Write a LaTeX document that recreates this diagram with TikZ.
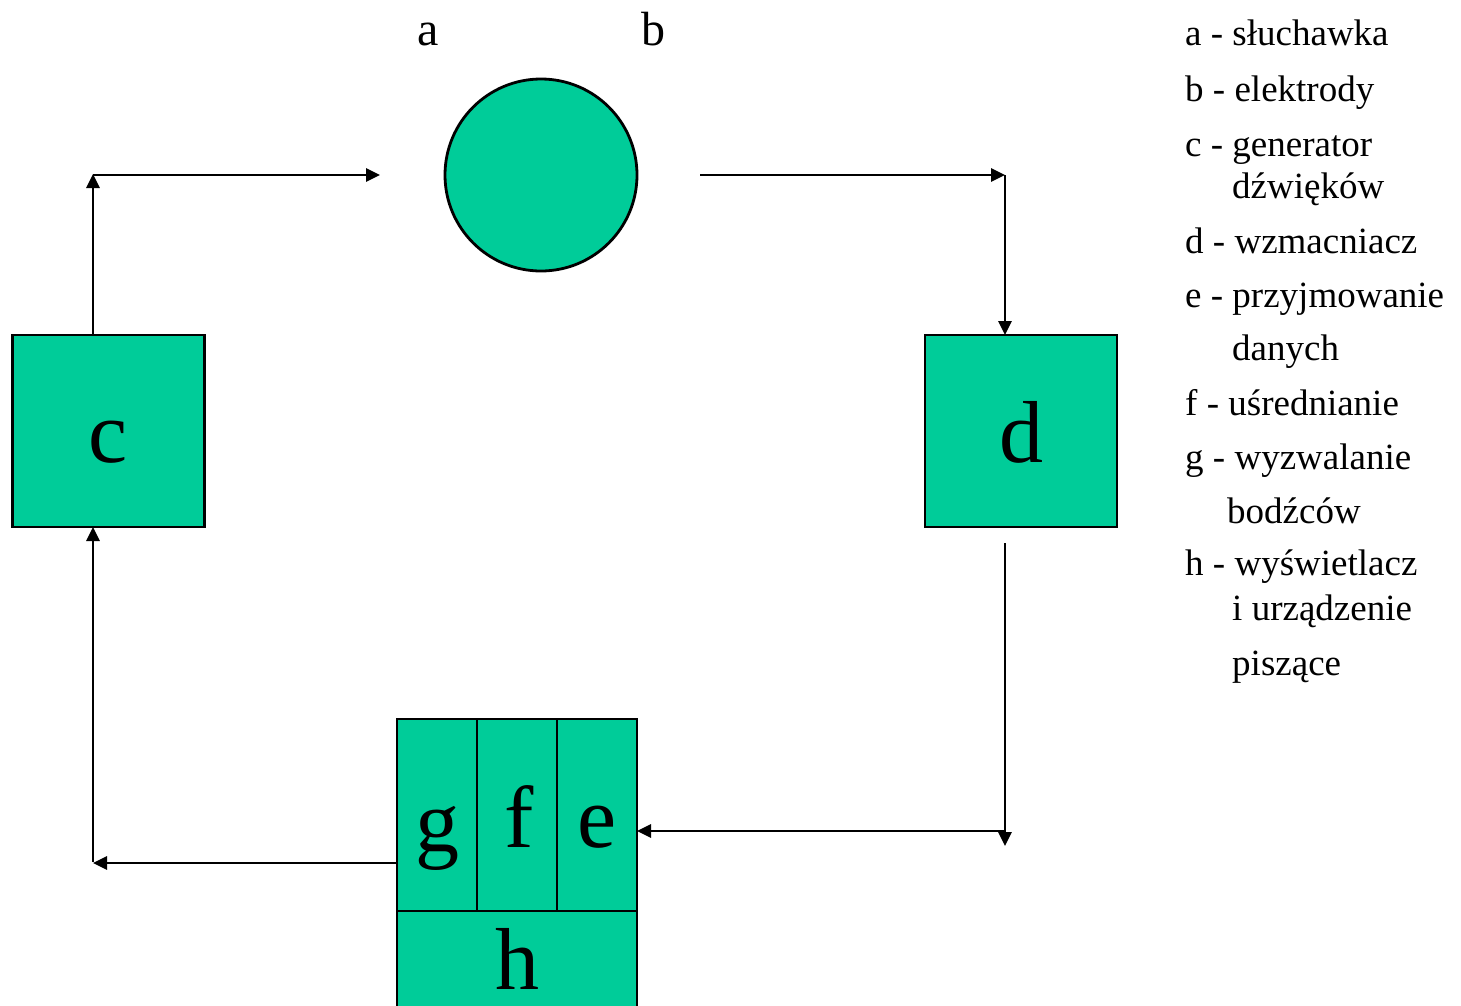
\documentclass[tikz,border=0pt]{standalone}
\usepackage{fontspec}
\setmainfont{Liberation Serif}
\usetikzlibrary{arrows.meta}
\definecolor{boxgreen}{HTML}{00CC99}
\begin{document}
\begin{tikzpicture}[x=1pt,y=-1pt,
  conn/.style={line width=2.7pt,-{Triangle[length=14pt,width=13pt]}},
  gbox/.style={draw=black,line width=2.8pt,fill=boxgreen,inner sep=0pt,outer sep=0pt},
  biglet/.style={font=\fontsize{88}{88}\selectfont,inner sep=0pt,anchor=base},
  toplet/.style={font=\fontsize{48}{48}\selectfont,inner sep=0pt,anchor=base},
  leg/.style={font=\fontsize{37}{37}\selectfont,inner sep=0pt,anchor=base west}]
\useasboundingbox (0,0) rectangle (1461,1005);
\clip (0,0) rectangle (1461,1005);
% circle
\node[gbox,circle,minimum size=192pt] (circ) at (541,175) {};
\node[toplet] (la) at (428,45) {a};
\node[toplet] (lb) at (653,45) {b};
% boxes c and d
\node[gbox,minimum width=192pt,minimum height=192pt] (cbox) at (108.5,431) {};
\node[biglet] (clet) at (108.5,462) {c};
\node[gbox,minimum width=192pt,minimum height=192pt] (dbox) at (1021,431) {};
\node[biglet] (dlet) at (1021,462) {d};
% block g f e h
\node[gbox,minimum width=80pt,minimum height=192pt] (gcell) at (437,815) {};
\node[gbox,minimum width=80pt,minimum height=192pt] (fcell) at (517,815) {};
\node[gbox,minimum width=80pt,minimum height=192pt] (ecell) at (597,815) {};
\node[gbox,minimum width=240pt,minimum height=97pt] (hcell) at (517,959.5) {};
\node[biglet] (glet) at (437,851) {g};
\node[biglet] (flet) at (519,847) {f};
\node[biglet] (elet) at (597,847) {e};
\node[biglet] (hlet) at (517,989) {h};
% connector coordinates
\coordinate (c1) at (93,335);
\coordinate (ctl) at (93,175);
\coordinate (aend) at (380,175);
\coordinate (bstart) at (700,175);
\coordinate (dtr) at (1005,175);
\coordinate (d1) at (1005,335);
\coordinate (d2) at (1005,543);
\coordinate (dbot) at (1005,846);
\coordinate (dcorner) at (1005,831);
\coordinate (e1) at (637,831);
\coordinate (g1) at (397,863);
\coordinate (cbl) at (93,863);
\coordinate (c2) at (93,527);
\draw[conn] (c1) -- ([yshift=1pt]ctl);
\draw[conn] (ctl) -- (aend);
\draw[conn] (bstart) -- (dtr);
\draw[conn] (dtr) -- (d1);
\draw[conn] (d2) -- (dbot);
\draw[conn] (dcorner) -- (e1);
\draw[conn] (g1) -- (cbl);
\draw[conn] ([yshift=1pt]cbl) -- (c2);
% legend
\node[leg] (l1) at (1185,45) {a - słuchawka};
\node[leg] (l2) at (1185,101) {b - elektrody};
\node[leg] (l3) at (1185,156) {c - generator};
\node[leg] (l4) at (1232,198) {dźwięków};
\node[leg] (l5) at (1185,253) {d - wzmacniacz};
\node[leg] (l6) at (1185,307) {e - przyjmowanie};
\node[leg] (l7) at (1232,360) {danych};
\node[leg] (l8) at (1185,415) {f - uśrednianie};
\node[leg] (l9) at (1185,469) {g - wyzwalanie};
\node[leg] (l10) at (1227,523) {bodźców};
\node[leg] (l11) at (1185,575) {h - wyświetlacz};
\node[leg] (l12) at (1232,620) {i urządzenie};
\node[leg] (l13) at (1232,675) {piszące};
\end{tikzpicture}
\end{document}
